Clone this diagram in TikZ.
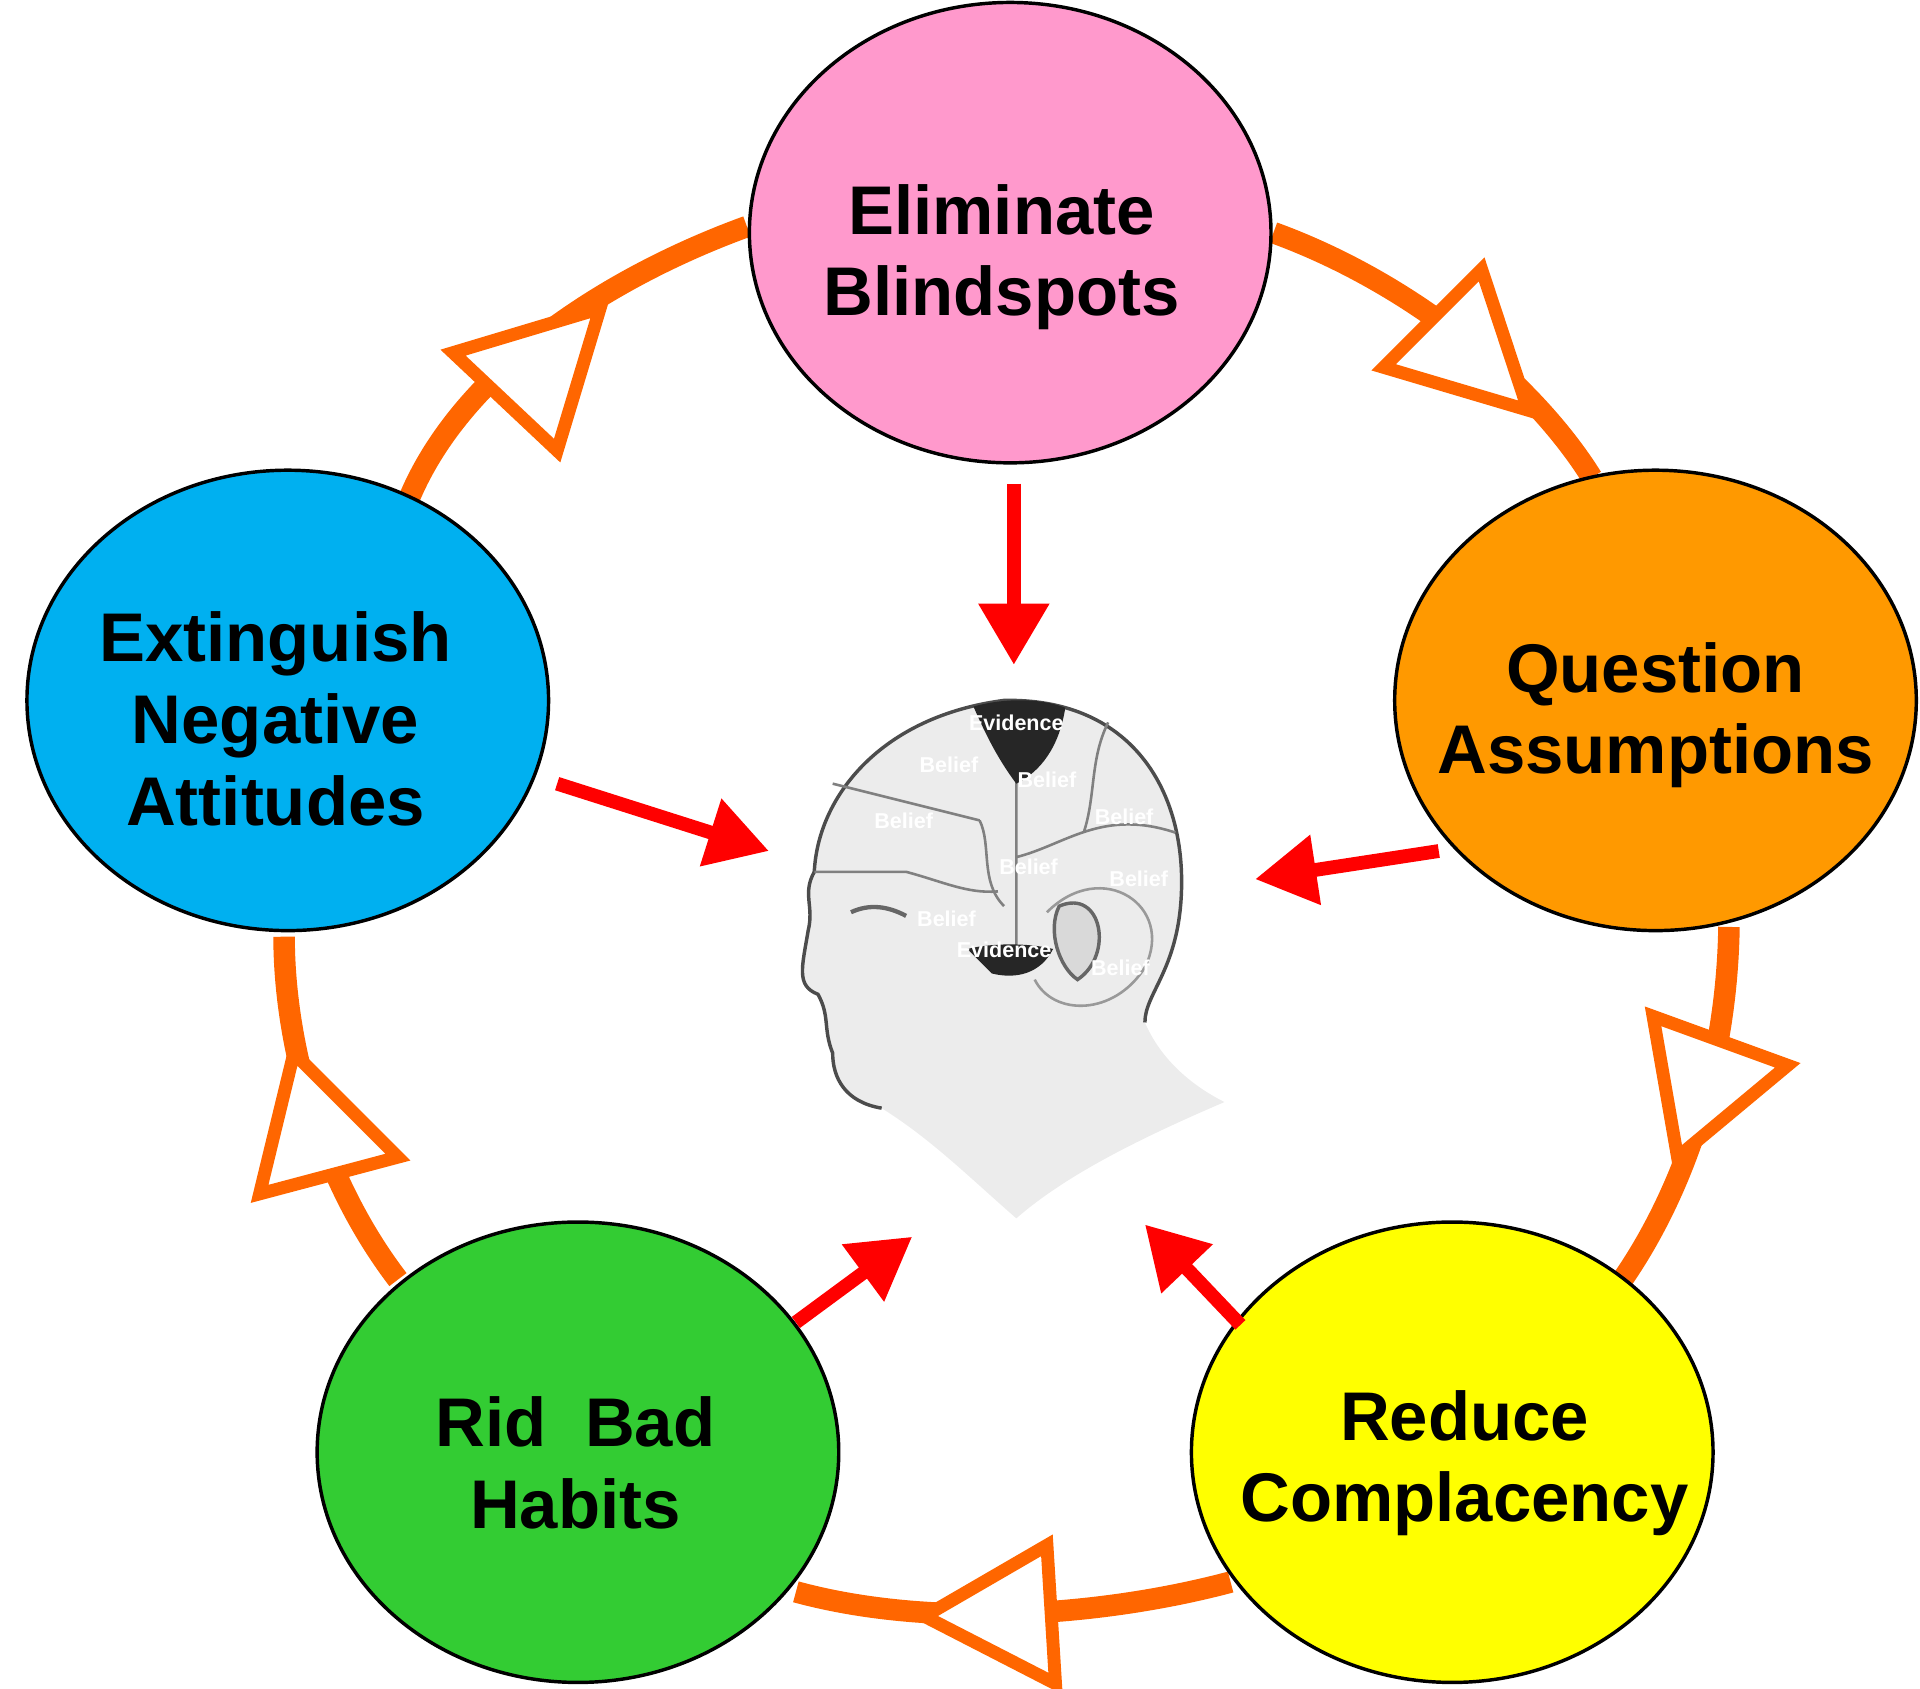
\documentclass[tikz,border=0pt]{standalone}
\usepackage{fontspec}
\setmainfont{Liberation Sans}
\usetikzlibrary{arrows.meta}
\definecolor{pk}{HTML}{FF99CC}
\definecolor{og}{HTML}{FF9900}
\definecolor{bl}{HTML}{00B0F0}
\definecolor{gr}{HTML}{33CC33}
\definecolor{yl}{HTML}{FFFF00}
\definecolor{rg}{HTML}{FF6600}
\begin{document}
\begin{tikzpicture}[x=0.01cm,y=-0.01cm,
  ring/.style={draw=rg,line width=5pt},
  tri/.style={draw=rg,line width=3pt,fill=white,line join=miter},
  txt/.style={font=\fontsize{16}{19}\selectfont\bfseries,align=center},
  bub/.style={draw=black,line width=0.8pt},
  red/.style={draw=red,line width=3.2pt,-{Triangle[length=0.5cm,width=0.55cm]}},
  lab/.style={font=\fontsize{5}{5}\selectfont\bfseries,text=white}]
\useasboundingbox (0,0) rectangle (1568,1379);
% ring
\draw[ring] (610,185) .. controls (500,225) and (380,300) .. (335,405);
\draw[ring] (1040,190) .. controls (1150,230) and (1250,310) .. (1300,390);
\draw[ring] (1412,757) .. controls (1410,880) and (1370,980) .. (1325,1045);
\draw[ring] (1005,1292) .. controls (900,1320) and (760,1330) .. (650,1300);
\draw[ring] (325,1045) .. controls (260,960) and (232,850) .. (232,765);
% ellipses
\path[bub,fill=pk] (825,190) ellipse [x radius=213,y radius=188];
\path[bub,fill=og] (1352,572) ellipse [x radius=213,y radius=188];
\path[bub,fill=bl] (235,572) ellipse [x radius=213,y radius=188];
\path[bub,fill=gr] (472,1186) ellipse [x radius=213,y radius=188];
\path[bub,fill=yl] (1186,1186) ellipse [x radius=213,y radius=188];
\node[txt] (a) at (818,210) {Eliminate\\Blindspots};
\node[txt] (b) at (1352,584) {Question\\Assumptions};
\node[txt] (c) at (225,587) {Extinguish\\Negative\\Attitudes};
\node[txt] (d) at (470,1195) {Rid\ \ Bad\\Habits};
\node[txt] (e) at (1196,1195) {Reduce\\Complacency};
% triangles
\draw[tri] (370,288) -- (490,252) -- (455,368) -- cycle;
\draw[tri] (1130,300) -- (1210,220) -- (1248,335) -- cycle;
\draw[tri] (1350,830) -- (1460,870) -- (1370,945) -- cycle;
\draw[tri] (855,1262) -- (755,1320) -- (862,1375) -- cycle;
\draw[tri] (212,975) -- (240,860) -- (325,945) -- cycle;
% head
\fill[gray!15] (665,712) .. controls (668,650) and (720,585) .. (820,572) .. controls (920,570) and (965,640) .. (965,720)
 .. controls (965,790) and (935,810) .. (935,835) .. controls (950,870) and (980,890) .. (1000,900)
 .. controls (930,930) and (870,960) .. (830,995) .. controls (790,960) and (760,930) .. (720,905)
 .. controls (690,900) and (680,880) .. (680,860) .. controls (672,840) and (678,830) .. (668,812)
 .. controls (650,805) and (655,790) .. (660,760) .. controls (665,740) and (655,730) .. (665,712) -- cycle;
\draw[black!70,line width=0.8pt] (665,712) .. controls (668,650) and (720,585) .. (820,572) .. controls (920,570) and (965,640) .. (965,720)
 .. controls (965,790) and (935,810) .. (935,835);
\draw[black!70,line width=0.8pt] (665,712) .. controls (655,730) and (665,740) .. (660,760) .. controls (655,790) and (650,805) .. (668,812)
 .. controls (678,830) and (672,840) .. (680,860) .. controls (680,880) and (690,900) .. (720,905);
\draw[black!50,line width=0.6pt] (680,640) .. controls (720,650) and (760,660) .. (800,670) (665,712) -- (740,712) .. controls (770,720) and (790,730) .. (815,728)
 (830,620) -- (830,780) (830,700) .. controls (870,690) and (900,660) .. (960,680) (905,590) .. controls (890,620) and (895,650) .. (885,680)
 (800,670) .. controls (810,690) and (800,720) .. (820,740);
\fill[black!85] (795,577) .. controls (820,570) and (850,570) .. (870,578) .. controls (865,610) and (850,630) .. (830,640) .. controls (815,620) and (805,600) .. (795,577) -- cycle;
\fill[black!85] (790,775) .. controls (810,770) and (840,770) .. (860,775) .. controls (850,795) and (830,800) .. (810,795) -- cycle;
\draw[black!60,line width=0.8pt,fill=gray!30] (865,740) .. controls (900,725) and (910,780) .. (880,800) .. controls (865,790) and (855,760) .. (865,740) -- cycle;
\draw[black!40,line width=0.6pt] (855,745) .. controls (900,700) and (960,740) .. (935,790) .. controls (910,830) and (860,830) .. (845,800);
\draw[black!60,line width=1pt] (695,745) .. controls (710,738) and (725,740) .. (740,748);
\node[lab] (l1) at (830,590) {Evidence};
\node[lab] (l2) at (775,625) {Belief};
\node[lab] (l3) at (855,637) {Belief};
\node[lab] (l4) at (738,670) {Belief};
\node[lab] (l5) at (918,667) {Belief};
\node[lab] (l6) at (840,708) {Belief};
\node[lab] (l7) at (930,718) {Belief};
\node[lab] (l8) at (773,750) {Belief};
\node[lab] (l9) at (820,776) {Evidence};
\node[lab] (l10) at (915,790) {Belief};
\coordinate (h1) at (828,543); \coordinate (h2) at (628,695); \coordinate (h3) at (1025,718);
\coordinate (h4) at (745,1010); \coordinate (h5) at (935,1000);
\coordinate (s1) at (828,395); \coordinate (s2) at (455,640); \coordinate (s3) at (1175,695);
\coordinate (s4) at (650,1080); \coordinate (s5) at (1013,1082);
\draw[red] (s1) -- (h1); \draw[red] (s2) -- (h2); \draw[red] (s3) -- (h3);
\draw[red] (s4) -- (h4); \draw[red] (s5) -- (h5);
\end{tikzpicture}
\end{document}
